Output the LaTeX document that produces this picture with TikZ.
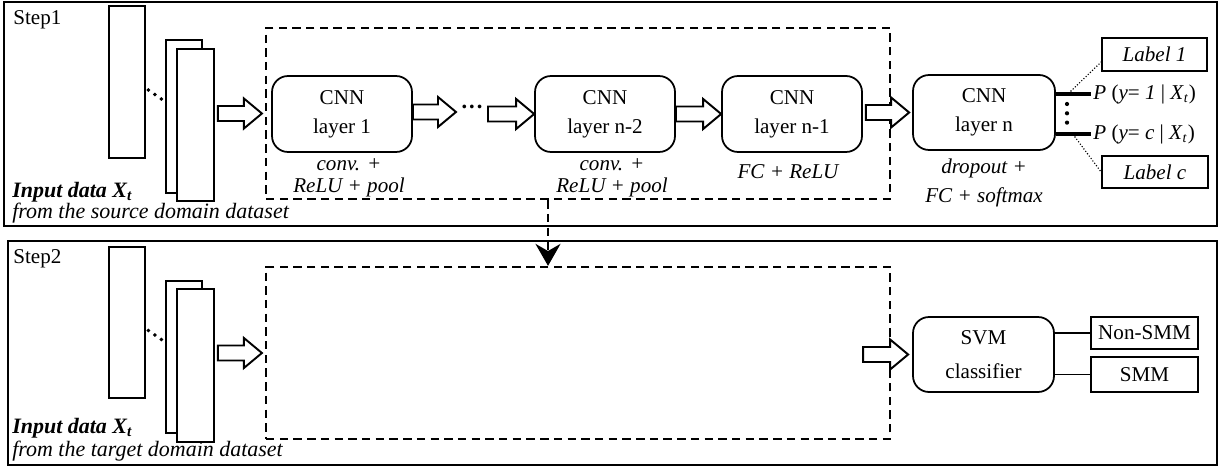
\documentclass[tikz,border=0pt]{standalone}
\usepackage{fontspec}
\setmainfont{Liberation Serif}
\usetikzlibrary{arrows.meta,positioning,calc}

% hollow block arrow from #1 to #2 (height taken from #2)
\newcommand{\fatarrow}[2]{%
  \draw[fatarr] let \p1=(#1), \p2=(#2) in
    (\x1,\y2+0.15cm) -- (\x2-0.36cm,\y2+0.15cm) -- (\x2-0.36cm,\y2+0.3cm)
    -- (\x2,\y2) -- (\x2-0.36cm,\y2-0.3cm) -- (\x2-0.36cm,\y2-0.15cm)
    -- (\x1,\y2-0.15cm) -- cycle;}

\begin{document}
\begin{tikzpicture}[
  x=0.02cm, y=-0.02cm,
  font=\fontsize{12}{14}\selectfont,
  stepframe/.style={draw, line width=1.2pt},
  cnnbox/.style={draw, rounded corners=0.32cm, minimum width=2.8cm,
                 minimum height=1.52cm, align=center, line width=1pt,
                 font=\fontsize{12}{16.5}\selectfont},
  featbox/.style={draw, dash pattern=on 4.8pt off 3pt, line width=1.3pt,
                  minimum width=12.48cm},
  slab/.style={draw, line width=1pt, fill=white, minimum width=0.72cm},
  lbox/.style={draw, line width=1pt, minimum width=2.1cm,
               minimum height=0.65cm},
  note/.style={font=\itshape\fontsize{12}{12.5}\selectfont, align=center,
               inner sep=0pt},
  fatarr/.style={draw, line width=1.1pt, fill=white, line join=miter},
  thickline/.style={line width=1.8pt},
  finedots/.style={line width=0.9pt, line cap=round,
                   dash pattern=on 0pt off 1.7pt},
  bigdots/.style={line width=2.4pt, line cap=round,
                  dash pattern=on 0pt off 5.3pt},
  stackdots/.style={line width=2.2pt, line cap=round,
                    dash pattern=on 0pt off 4.5pt},
]
  \useasboundingbox (0,0) rectangle (1220,466);

  % frames
  \draw[stepframe] (4,2) rectangle (1217,226);
  \draw[stepframe] (8,241) rectangle (1217,465);
  \node[anchor=base west, inner sep=0pt] (s1) at (13,25) {Step1};
  \node[anchor=base west, inner sep=0pt] (s2) at (13,263) {Step2};

  % ---- step 1 ----
  \node[slab, minimum height=3.04cm] (in1a) at (127,82) {};
  \node[slab, minimum height=3.06cm] (in1b) at (184,116.5) {};
  \node[slab, minimum height=3.04cm, minimum width=0.74cm] (in1c) at (195.5,125) {};
  \draw[stackdots]
    ([xshift=0.05cm,yshift=-0.16cm]in1a.east) -- ([xshift=-0.06cm,yshift=0.34cm]in1b.west);
  \node[anchor=base west, inner sep=0pt, font=\bfseries\itshape\fontsize{12.5}{14}\selectfont]
    (x1) at (12,197) {Input data X\textsubscript{t}};
  \node[anchor=base west, inner sep=0pt, font=\itshape\fontsize{12.5}{14}\selectfont]
    (src) at (12,218) {from the source domain dataset};

  \node[featbox, minimum height=3.42cm] (feat1) at (578,113.5) {};

  \node[cnnbox] (l1) at (342,114) {CNN\\layer 1};
  \node[inner sep=0pt, font=\bfseries\fontsize{13}{14}\selectfont] (dots) at (472,110) {···};
  \node[cnnbox] (ln2) at (605,114) {CNN\\layer n-2};
  \node[cnnbox] (ln1) at (792,114) {CNN\\layer n-1};
  \node[cnnbox, minimum width=2.84cm, minimum height=1.5cm] (lnn) at (984,112.5) {CNN\\layer n};

  \node[note, below=0.1cm of l1, xshift=0.14cm] {conv. +\\ReLU + pool};
  \node[note, below=0.1cm of ln2, xshift=0.14cm] {conv. +\\ReLU + pool};
  \node[note, below=0.22cm of ln1, xshift=-0.08cm] {FC + ReLU};
  \node[note, below=0.16cm of lnn, font=\itshape\fontsize{12}{16.4}\selectfont]
    {dropout +\\FC + softmax};

  \fatarrow{[xshift=0.06cm]in1c.east}{[xshift=-0.06cm]feat1.west}
  \fatarrow{l1.east}{[xshift=-0.32cm,yshift=-0.04cm]dots.center}
  \fatarrow{[xshift=0.32cm]dots.center}{ln2.west}
  \fatarrow{ln2.east}{ln1.west}
  \fatarrow{[xshift=0.06cm]ln1.east}{[xshift=-0.06cm]lnn.west}

  % outputs of layer n
  \node[anchor=west, inner sep=0.04cm] (p1) at (1091,94)
    {\textit{P} (\textit{y}= \textit{1} | \textit{X}\textsubscript{\textit{t}})};
  \node[anchor=west, inner sep=0.04cm] (pc) at (1091,134)
    {\textit{P} (\textit{y}= \textit{c} | \textit{X}\textsubscript{\textit{t}})};
  \draw[thickline] (lnn.east |- p1.west) -- (p1.west);
  \draw[thickline] (lnn.east |- pc.west) -- (pc.west);
  \coordinate (t1) at (1067,94);
  \coordinate (t2) at (1067,133);
  \draw[bigdots] ([yshift=-0.2cm]t1) -- ([yshift=0.2cm]t2);

  \node[lbox, minimum height=0.66cm] (lab1) at (1154.5,54.5) {\textit{Label 1}};
  \node[lbox, minimum width=2.12cm, minimum height=0.64cm] (labc) at (1155,172) {\textit{Label c}};
  \draw[finedots] ([yshift=-0.15cm]lab1.west) -- ([xshift=-0.4cm,yshift=0.06cm]p1.west);
  \draw[finedots] ([xshift=-0.32cm,yshift=-0.06cm]pc.west) -- (labc.west);

  % ---- step 2 ----
  \node[slab, minimum height=3.02cm] (in2a) at (127,322.5) {};
  \node[slab, minimum height=3.04cm] (in2b) at (184,357) {};
  \node[slab, minimum height=3.06cm, minimum width=0.74cm] (in2c) at (195.5,365.5) {};
  \draw[stackdots]
    ([xshift=0.05cm,yshift=-0.16cm]in2a.east) -- ([xshift=-0.06cm,yshift=0.34cm]in2b.west);
  \node[anchor=base west, inner sep=0pt, font=\bfseries\itshape\fontsize{12.5}{14}\selectfont]
    (x2) at (12,433) {Input data X\textsubscript{t}};
  \node[anchor=base west, inner sep=0pt, font=\itshape\fontsize{12.5}{14}\selectfont]
    (tgt) at (12,456) {from the target domain dataset};

  \node[featbox, minimum height=3.44cm] (feat2) at (578,353) {};
  \fatarrow{[xshift=0.06cm]in2c.east}{[xshift=-0.06cm]feat2.west}

  \node[cnnbox, minimum width=2.82cm, minimum height=1.5cm,
        font=\fontsize{12}{19}\selectfont] (svm) at (983.5,354.5) {SVM\\classifier};
  \fatarrow{[xshift=-0.98cm]svm.west}{[xshift=-0.08cm]svm.west}

  \node[lbox, minimum width=2.14cm, minimum height=0.64cm] (nonsmm) at (1144.5,333) {Non-SMM};
  \node[lbox, minimum width=2.14cm, minimum height=0.7cm] (smm) at (1144.5,374.5) {SMM};
  \draw[line width=1pt] (svm.east |- nonsmm.west) -- (nonsmm.west);
  \draw[line width=1pt] (svm.east |- smm.west) -- (smm.west);

  % transfer of the trained layers
  \draw[dash pattern=on 4.8pt off 3pt, line width=1.3pt,
        -{Stealth[length=0.44cm,width=0.5cm]}]
    ([xshift=-0.6cm]feat1.south) -- ([xshift=-0.6cm]feat2.north);
\end{tikzpicture}
\end{document}
